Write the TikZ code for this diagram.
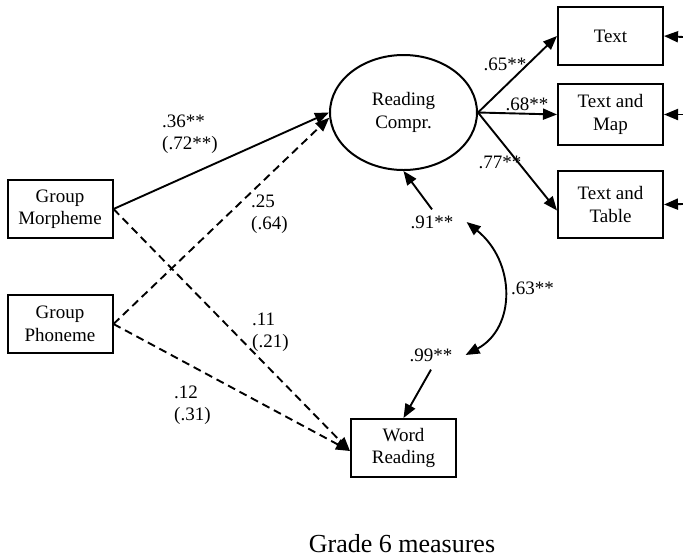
\documentclass[tikz,border=0pt]{standalone}
\usepackage{fontspec}
\setmainfont{Liberation Serif}
\usetikzlibrary{arrows.meta,shapes.geometric}
\begin{document}
\begin{tikzpicture}[x=1pt,y=-1pt,
  every node/.style={font=\fontsize{19}{22.5}\selectfont, inner sep=0pt},
  box/.style={draw, line width=2pt, minimum width=105pt, align=center},
  lat/.style={draw, line width=2pt, ellipse, minimum width=147pt, minimum height=115pt, align=center},
  conn/.style={line width=1.9pt, -{Triangle[length=14pt,width=11pt]}},
  dconn/.style={conn, dash pattern=on 8pt off 5pt},
  lab/.style={align=left, anchor=west},
  val/.style={align=center}]
\useasboundingbox (0,0) rectangle (683,558);
% nodes
\node[box, minimum height=58pt] (morph) at (60,209) {Group\\Morpheme};
\node[box, minimum height=58pt] (phon) at (60,324) {Group\\Phoneme};
\node[lat] (rc) at (403.5,112.5) {Reading\\Compr.};
\node[box, minimum height=58pt] (text) at (610.5,36) {Text};
\node[box, minimum height=61pt] (map) at (610.5,114.5) {Text and\\Map};
\node[box, minimum height=67pt] (table) at (610.5,204.5) {Text and\\Table};
\node[box, minimum height=58pt] (word) at (403.5,448) {Word\\Reading};
% residual labels
\node[val, inner xsep=13pt, inner ysep=6pt] (n91) at (432,222) {.91**};
\node[val, inner xsep=13pt, inner ysep=8pt] (n99) at (431,355) {.99**};
\node[lab] (n63) at (511,288) {.63**};
% free ends of error arrows
\coordinate (e1) at (683,37);
\coordinate (e2) at (683,114.5);
\coordinate (e3) at (683,204);
% connectors
\draw[conn] (morph.east) -- (rc.west);
\draw[dconn] (phon.east) -- (rc.184);
\draw[dconn] (morph.east) -- ([yshift=-3pt]word.west);
\draw[dconn] (phon.east) -- ([yshift=-3pt]word.west);
\draw[conn] (rc.east) -- (text.west);
\draw[conn] (rc.east) -- (map.west);
\draw[conn] (rc.east) -- ([yshift=-6pt]table.west);
\draw[conn] (e1) -- (text.east);
\draw[conn] (e2) -- (map.east);
\draw[conn] (e3) -- (table.east);
\draw[conn] (n91.north) -- (rc.south);
\draw[conn] (n99.south) -- (word.north);
\draw[line width=1.9pt, {Triangle[length=14pt,width=11pt]}-{Triangle[length=14pt,width=11pt]}]
  (n91.east) .. controls (516,262) and (516,328) .. (n99.east);
% path labels
\node[lab] (l36) at (162,134) {.36**\\(.72**)};
\node[lab] (l25) at (251,214) {.25\\(.64)};
\node[lab] (l11) at (252,332) {.11\\(.21)};
\node[lab] (l12) at (174,405) {.12\\(.31)};
\node[val] (l65) at (505,64) {.65**};
\node[val] (l68) at (527,104) {.68**};
\node[val] (l77) at (500,162) {.77**};
% caption
\node[font=\fontsize{26}{30}\selectfont] (cap) at (402,544) {Grade 6 measures};
\end{tikzpicture}
\end{document}
